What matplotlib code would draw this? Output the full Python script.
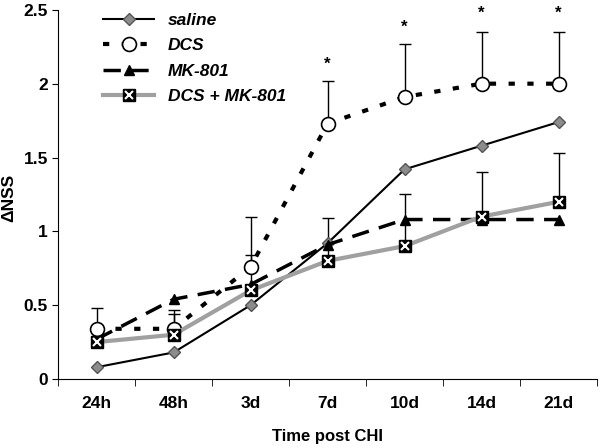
import matplotlib.pyplot as plt
import numpy as np

plt.rcParams['font.family'] = ['Liberation Sans', 'DejaVu Sans']

days = ['24h', '48h', '3d', '7d', '10d', '14d', '21d']
saline = [0.08, 0.18, 0.50, 0.92, 1.42, 1.58, 1.74]
dcs = [0.34, 0.34, 0.76, 1.73, 1.91, 2.00, 2.00]
dcs_err = [0.14, 0.13, 0.34, 0.29, 0.36, 0.35, 0.35]
mk801 = [0.27, 0.54, 0.64, 0.91, 1.08, 1.08, 1.08]
combo = [0.25, 0.30, 0.60, 0.80, 0.90, 1.10, 1.20]
combo_err = [0.10, 0.14, 0.24, 0.29, 0.35, 0.30, 0.33]
star_y = [None, None, None, 2.13, 2.38, 2.48, 2.48]

x = np.arange(len(days))

fig = plt.figure(figsize=(6, 4.48), dpi=100)
ax = fig.add_axes([0.097, 0.154, 0.898, 0.824])

# upward-only error bars
ax.errorbar(x, combo, yerr=[np.zeros(len(x)), combo_err], fmt='none',
            ecolor='black', elinewidth=1, capsize=4, capthick=1, zorder=2)
ax.errorbar(x, dcs, yerr=[np.zeros(len(x)), dcs_err], fmt='none',
            ecolor='black', elinewidth=1, capsize=4, capthick=1, zorder=2)

l1, = ax.plot(x, saline, color='black', lw=1.5, marker='D', ms=6,
              mfc='#8c8c8c', mec='#555555', zorder=3)
l2, = ax.plot(x, dcs, color='black', lw=3, ls=(0, (1.5, 3)), marker='o', ms=10,
              mfc='white', mec='black', mew=1.2, zorder=4)
l3, = ax.plot(x, mk801, color='black', lw=2.5, ls=(0, (5, 3)), marker='^', ms=7,
              mfc='black', mec='black', zorder=3)
l4, = ax.plot(x, combo, color='#a0a0a0', lw=3, marker='s', ms=9,
              mfc='black', mec='black', zorder=5)
l4x, = ax.plot(x, combo, ls='none', marker='x', ms=6, mec='white', mew=1.5, zorder=6)

for xi, yi in zip(x, star_y):
    if yi is not None:
        ax.text(xi, yi, '*', ha='center', va='center', fontsize=12, fontweight='bold')

ax.set_xlim(-0.5, 6.5)
ax.set_ylim(0, 2.5)
ax.set_xticks(x)
ax.set_xticklabels(days)
ax.set_xticks(np.arange(-0.5, 7, 1), minor=True)
ax.tick_params(axis='x', which='major', length=0, pad=12)
ax.tick_params(axis='x', which='minor', length=5, direction='out')
ax.set_yticks([0, 0.5, 1, 1.5, 2, 2.5])
ax.set_yticklabels(['0', '0.5', '1', '1.5', '2', '2.5'])
ax.tick_params(axis='y', length=4, direction='out')
for lab in ax.get_xticklabels() + ax.get_yticklabels():
    lab.set_fontsize(12.5)
    lab.set_fontweight('bold')

ax.spines['top'].set_visible(False)
ax.spines['right'].set_visible(False)

ax.set_xlabel('Time post CHI', fontsize=12, fontweight='bold', labelpad=13)
ax.set_ylabel('ΔNSS', fontsize=12.5, fontweight='bold')
ax.yaxis.set_label_coords(-0.078, 0.49)

leg = ax.legend([l1, l2, l3, (l4, l4x)], ['saline', 'DCS', 'MK-801', 'DCS + MK-801'],
                loc='upper left', bbox_to_anchor=(0.055, 1.035), frameon=False,
                prop={'weight': 'bold', 'style': 'italic', 'size': 12.5},
                handlelength=2.9, handletextpad=0.8, labelspacing=0.6)

plt.savefig('out.png')
